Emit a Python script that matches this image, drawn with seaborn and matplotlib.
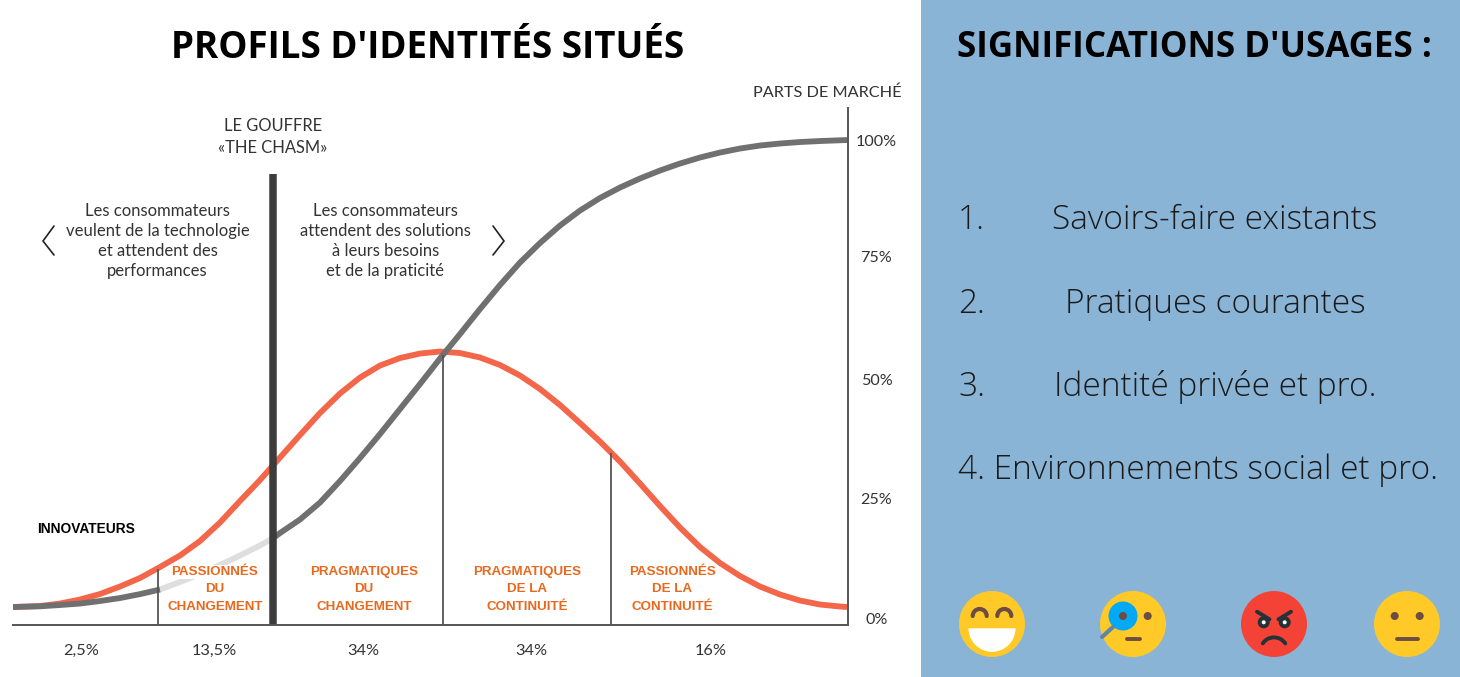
import matplotlib
matplotlib.use("Agg")
import matplotlib.pyplot as plt
import pandas as pd
import seaborn as sns
from matplotlib.patches import Arc, Circle, Rectangle, Wedge

# courbe rouge (adoption) et courbe grise (parts de marche)
red_x = [13, 40, 60, 80, 100, 120, 140, 160, 180, 200, 220, 240, 260, 280, 300, 320, 340, 360, 380, 400, 420, 440,
         460, 480, 500, 520, 540, 560, 580, 600, 620, 640, 660, 680, 700, 720, 740, 760, 780, 800, 820, 840, 847]
red_y = [2.30, 2.51, 3.03, 3.87, 5.02, 6.59, 8.37, 10.67, 13.08, 16.11, 19.98, 24.48, 28.87, 33.58, 38.28, 42.89,
         46.97, 50.31, 52.82, 54.39, 55.33, 55.75, 55.44, 54.50, 52.93, 50.73, 47.91, 44.56, 40.79, 36.92, 32.74,
         28.14, 23.43, 18.93, 14.85, 11.51, 8.79, 6.59, 4.92, 3.66, 2.82, 2.41, 2.30]
gray_x = [13, 40, 60, 80, 100, 120, 140, 160, 273, 280, 300, 320, 340, 360, 380, 400, 420, 440, 460, 480, 500, 520,
          540, 560, 580, 600, 620, 640, 660, 680, 700, 720, 740, 760, 780, 800, 820, 847]
gray_y = [2.30, 2.45, 2.72, 3.03, 3.56, 4.18, 5.00, 5.96, 16.70, 17.78, 20.61, 24.16, 28.66, 33.47, 38.49, 43.72,
          48.95, 54.29, 59.41, 64.64, 69.67, 74.37, 78.45, 82.11, 85.25, 87.87, 90.06, 91.95, 93.62, 95.08, 96.34,
          97.38, 98.22, 98.85, 99.27, 99.58, 99.79, 100.0]
faded_x = [160, 180, 200, 220, 240, 260, 273]
faded_y = [5.96, 7.53, 9.21, 11.09, 13.08, 15.17, 16.70]

limit_x = [158, 443, 611]
limit_top = [10.3, 55.0, 34.5]
chasm_x = 273
chasm_top = 92.9

share_ticks = [0, 25, 50, 75.7, 100]
share_labels = ["0%", "25%", "50%", "75%", "100%"]
segment_ticks = [81, 214, 363, 531, 711]
segment_labels = ["2,5%", "13,5%", "34%", "34%", "16%"]
profils = [["PASSIONNÉS", "DU", "CHANGEMENT"], ["PRAGMATIQUES", "DU", "CHANGEMENT"],
           ["PRAGMATIQUES", "DE LA", "CONTINUITÉ"], ["PASSIONNÉS", "DE LA", "CONTINUITÉ"]]
profils_x = [215, 364, 527, 672]
profils_y = [572, 589.5, 607]
usages_num = ["1.", "2.", "3."]
usages = ["Savoirs-faire existants", "Pratiques courantes", "Identité privée et pro."]
usages_y = [220, 304, 387]

RED = "#F4664A"
GRAY = "#707070"
ORANGE = "#E8691E"
INK = "#333333"
BROWN = "#6D4C41"
DARK = "#263238"
YELLOW = "#FFCA28"

sns.set_theme(style="white")
plt.rcParams["font.family"] = ["Lato", "DejaVu Sans"]

W, H = 1460, 677
fig = plt.figure(figsize=(W / 100, H / 100), dpi=100, facecolor="white")

# fond en pixels : panneau bleu, titres, textes, emojis (au-dessus du graphique)
bg = fig.add_axes([0, 0, 1, 1], zorder=2)
bg.set_xlim(0, W)
bg.set_ylim(H, 0)
bg.axis("off")
bg.add_patch(Rectangle((921, 0), W - 921, H, color="#8AB4D6", lw=0))

# le graphique
ax = fig.add_axes([13 / W, (H - 625) / H, 835 / W, (625 - 108) / H], zorder=1)
ax.patch.set_alpha(0)
ax.set_xlim(13, 848)
ax.set_ylim(-1.46, 106.7)

lw = 4.2
sns.lineplot(data=pd.DataFrame({"x": red_x, "y": red_y}), x="x", y="y", ax=ax, color=RED, linewidth=lw,
             estimator=None, sort=False, solid_capstyle="butt")
sns.lineplot(data=pd.DataFrame({"x": faded_x, "y": faded_y}), x="x", y="y", ax=ax, color="#DEDEDE", linewidth=lw,
             estimator=None, sort=False, solid_capstyle="butt")
dark_part = pd.DataFrame({"x": gray_x, "y": gray_y})
left = dark_part[dark_part["x"] <= 160]
right = dark_part[dark_part["x"] >= 273]
for part in [left, right]:
    sns.lineplot(data=part, x="x", y="y", ax=ax, color=GRAY, linewidth=lw, estimator=None, sort=False,
                 solid_capstyle="butt")

ax.vlines(limit_x, -1.46, limit_top, color="#555555", lw=1.3)
ax.vlines(chasm_x, -1.46, chasm_top, color="#3C3C3C", lw=5.4)

for s in ["top", "left"]:
    ax.spines[s].set_visible(False)
for s in ["bottom", "right"]:
    ax.spines[s].set_color("#555555")
    ax.spines[s].set_linewidth(1.4)

ax.set_xlabel("")
ax.set_ylabel("")
ax.set_xticks(segment_ticks)
ax.set_xticklabels(segment_labels, fontsize=11.8, color=INK)
ax.tick_params(axis="x", length=0, pad=13.5)
ax.yaxis.tick_right()
ax.set_yticks(share_ticks)
ax.set_yticklabels(share_labels, fontsize=11.6, color=INK, ha="center")
ax.tick_params(axis="y", length=0, pad=20.5)

# titres
bg.text(428, 48, "PROFILS D'IDENTITÉS SITUÉS", family="Open Sans", weight="bold", fontsize=26.5,
        color="black", ha="center", va="center")
bg.text(1194, 48, "SIGNIFICATIONS D'USAGES :", family="Open Sans", weight="bold", fontsize=25.2,
        color="black", ha="center", va="center")

# annotations du graphique
bg.text(827.5, 93, "PARTS DE MARCHÉ", fontsize=11.7, color=INK, ha="center", va="center")
bg.text(273, 137, "LE GOUFFRE\n«THE CHASM»", fontsize=11.9, color=INK, ha="center", va="center", linespacing=1.4)
bg.text(157.5, 241, "Les consommateurs\nveulent de la technologie\net attendent des\nperformances", fontsize=12,
        color=INK, ha="center", va="center", linespacing=1.3)
bg.text(385.5, 241, "Les consommateurs\nattendent des solutions\nà leurs besoins\net de la praticité", fontsize=12,
        color=INK, ha="center", va="center", linespacing=1.3)
bg.plot([54, 43, 54], [226, 241, 255], color="#222222", lw=1.2)
bg.plot([493, 504, 493], [226, 241, 255], color="#222222", lw=1.2)

bg.text(86, 529, "INNOVATEURS", family="Liberation Sans", weight="bold", fontsize=9.9, color="black",
        ha="center", va="center")
for rows, px in zip(profils, profils_x):
    for row, py in zip(rows, profils_y):
        bg.text(px, py, row, family="Liberation Sans", weight="bold", fontsize=9.6, color=ORANGE,
                ha="center", va="center", bbox=dict(facecolor="white", edgecolor="none", pad=0.5))

# liste a droite
for num, label, py in zip(usages_num, usages, usages_y):
    bg.text(958, py, num, family="Open Sans", weight="light", fontsize=24, color="#1A1A1A", va="center")
    bg.text(1215, py, label, family="Open Sans", weight="light", fontsize=24, color="#1A1A1A", ha="center", va="center")
bg.text(958, 470, "4. Environnements social et pro.", family="Open Sans", weight="light", fontsize=24,
        color="#1A1A1A", va="center")


def trait(x, y, color, width):
    bg.plot(x, y, color=color, lw=width, solid_capstyle="round")


def arc(cx, cy, r, t1, t2, color, width):
    bg.add_patch(Arc((cx, cy), 2 * r, 2 * r, theta1=t1, theta2=t2, color=color, lw=width, capstyle="round"))


cy = 624
# sourire
cx = 992
bg.add_patch(Circle((cx, cy), 33, color=YELLOW, lw=0))
arc(cx - 12.3, cy - 8, 7, 180, 360, BROWN, 3)
arc(cx + 12.3, cy - 8, 7, 180, 360, BROWN, 3)
bg.add_patch(Wedge((cx, cy + 4.3), 23.5, 0, 180, color="white", lw=0))
# loupe
cx = 1133
bg.add_patch(Circle((cx, cy), 33, color=YELLOW, lw=0))
trait([cx - 20, cx - 31], [cy + 3, cy + 13], "#5F86A5", 3)
bg.add_patch(Circle((cx - 10, cy - 8), 14.5, color="#03A9F4", lw=0))
bg.add_patch(Circle((cx - 10, cy - 8), 4, color=BROWN, lw=0))
bg.add_patch(Circle((cx + 14.7, cy - 8), 4, color=BROWN, lw=0))
trait([cx - 6.5, cx + 7], [cy + 15, cy + 15], BROWN, 2.8)
# colere
cx = 1274
bg.add_patch(Circle((cx, cy), 33, color="#F44336", lw=0))
trait([cx - 17, cx - 4.5], [cy - 12.3, cy - 4.7], DARK, 2.8)
trait([cx + 17, cx + 4.5], [cy - 12.3, cy - 4.7], DARK, 2.8)
for dx in [-10.3, 10.7]:
    bg.add_patch(Circle((cx + dx, cy - 1.7), 6, color=DARK, lw=0))
    bg.add_patch(Circle((cx + dx, cy - 1.7), 2, color="white", lw=0))
arc(cx, cy + 27, 13.6, 214, 326, DARK, 2.8)
# neutre
cx = 1407
bg.add_patch(Circle((cx, cy), 33, color=YELLOW, lw=0))
bg.add_patch(Circle((cx - 12.3, cy - 8), 4, color=BROWN, lw=0))
bg.add_patch(Circle((cx + 12.7, cy - 8), 4, color=BROWN, lw=0))
trait([cx - 10.5, cx + 11], [cy + 15, cy + 15], BROWN, 2.8)

fig.savefig("out.png", dpi=100)
